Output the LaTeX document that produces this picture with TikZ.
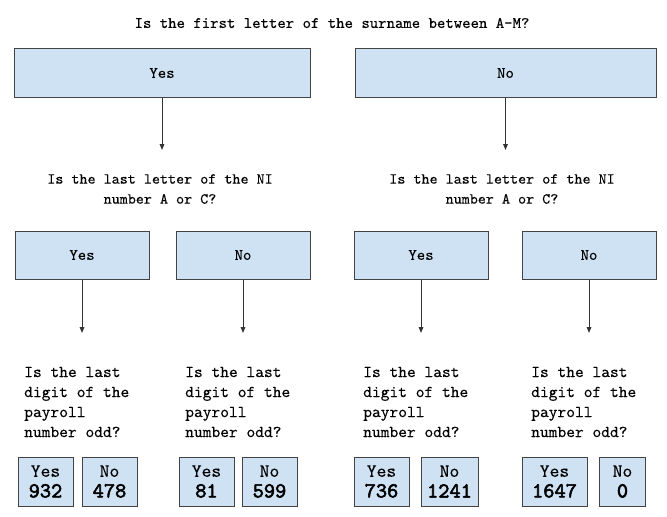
\documentclass[tikz,border=0pt]{standalone}
\usepackage{fontspec}
\setmainfont{lmmono10-regular}[Extension=.otf, FakeBold=0.2]
\newfontfamily\tallyfont{lmmono10-regular}[Extension=.otf, FakeBold=2.5]
\usetikzlibrary{arrows.meta}
\definecolor{boxblue}{HTML}{CFE2F3}
\definecolor{boxline}{HTML}{434343}
\definecolor{arrowgray}{HTML}{333333}
\begin{document}
\begin{tikzpicture}[x=0.75pt, y=-0.75pt,
    choice/.style={draw=boxline, fill=boxblue, line width=0.75pt, inner sep=0pt,
      minimum height=36pt, font=\fontsize{12}{14}\selectfont},
    tally/.style={draw=boxline, fill=boxblue, line width=0.75pt, inner sep=0pt,
      minimum height=36.75pt, align=center, font=\fontsize{14}{15.5}\selectfont},
    question/.style={align=center, font=\fontsize{11.5}{15}\selectfont},
    subquestion/.style={align=left, anchor=west, inner sep=0pt, font=\fontsize{12.5}{15}\selectfont},
    link/.style={draw=arrowgray, line width=0.75pt, -{Triangle[length=4.5pt, width=3.5pt]}}]
    \useasboundingbox (0,0) rectangle (667,517);

    % Surname question
    \node[font=\fontsize{12}{14}\selectfont] (title) at (332,23) {Is the first letter of the surname between A-M?};
    \node[choice, minimum width=222pt] (yes) at (162,73) {Yes};
    \node[choice, minimum width=225.75pt] (no) at (505.5,73) {No};
    \coordinate (yesTip) at (162,150);
    \coordinate (noTip) at (505.5,150);
    \draw[link] (yes.south) -- (yesTip);
    \draw[link] (no.south) -- (noTip);

    % NI number questions
    \node[question] (niLeft) at (160,189) {Is the last letter of the NI\\number A or C?};
    \node[question] (niRight) at (502,189) {Is the last letter of the NI\\number A or C?};

    % second level answers and payroll questions
    \foreach \name/\x/\lbl/\tx in {lYes/82/Yes/24, lNo/243/No/185, rYes/421/Yes/363, rNo/589/No/531} {
        \node[choice, minimum width=100.5pt] (\name) at (\x,255) {\lbl};
        \coordinate (\name Tip) at (\x,333);
        \draw[link] (\name.south) -- (\name Tip);
        \node[subquestion] (\name Odd) at (\tx,402) {Is the last\\digit of the\\payroll\\number odd?};
    }

    % payroll counts
    \foreach \name/\x/\w/\lbl/\n in {aYes/45.5/55/Yes/932, aNo/109.5/55/No/478,
        bYes/206.5/55/Yes/81, bNo/269.5/55/No/599,
        cYes/381.5/55/Yes/736, cNo/449.5/57/No/1241,
        dYes/554.5/65/Yes/1647, dNo/622.5/46/No/0} {
        \node[tally, minimum width=\w*0.75pt] (\name) at (\x,481.5)
            {\lbl\\{\tallyfont\fontsize{16}{15.5}\selectfont \n}};
    }
\end{tikzpicture}
\end{document}
